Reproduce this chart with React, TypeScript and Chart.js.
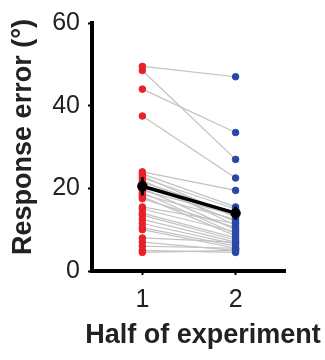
import React, { useEffect, useRef } from "react";
import { Chart, registerables } from "chart.js";

Chart.register(...registerables);

const categories = [1, 2];
const tickLabelsY = [0, 20, 40, 60];
const firstHalf = [49.5, 48.5, 44, 37.5, 24, 23.5, 23, 22.5, 22, 21.5, 21, 20, 19.5, 19, 18.5, 18, 17.5, 15.5, 15, 14, 13.5, 12.5, 11.5, 10.5, 10, 8, 7, 6, 5, 4.5];
const secondHalf = [47, 27, 33.5, 22.5, 19.5, 15.5, 13, 15, 11, 14, 12, 10, 13.5, 9, 12.5, 8.5, 10.5, 11.5, 9.5, 8, 7.5, 7, 6.5, 6, 5.5, 7, 5, 5.5, 4.5, 5];
const meanValues = [20.5, 14];
const semValues = [2.2, 1.6];
const xTitle = "Half of experiment";
const yTitle = "Response error (°)";

const FONT = "'Liberation Sans', Arial, sans-serif";

export default function App() {
  const ref = useRef<HTMLCanvasElement | null>(null);
  useEffect(() => {
    if (!ref.current) return;
    const lineSets = firstHalf.map((v, i) => ({
      type: "line" as const,
      data: [
        { x: categories[0], y: v },
        { x: categories[1], y: secondHalf[i] },
      ],
      borderColor: "#c2c2c2",
      borderWidth: 1.2,
      pointRadius: 0,
      order: 5,
    }));
    const errorBars = {
      id: "errorBars",
      afterDatasetsDraw(chart: any) {
        const { ctx, scales } = chart;
        ctx.save();
        ctx.strokeStyle = "#000";
        ctx.lineWidth = 3;
        meanValues.forEach((m, i) => {
          const x = scales.x.getPixelForValue(categories[i]);
          ctx.beginPath();
          ctx.moveTo(x, scales.y.getPixelForValue(m - semValues[i]));
          ctx.lineTo(x, scales.y.getPixelForValue(m + semValues[i]));
          ctx.stroke();
        });
        ctx.restore();
      },
    };
    const titles = {
      id: "axisTitles",
      afterDraw(chart: any) {
        const { ctx } = chart;
        ctx.save();
        ctx.fillStyle = "#222";
        ctx.font = `bold 27px ${FONT}`;
        ctx.textAlign = "center";
        ctx.textBaseline = "middle";
        ctx.fillText(xTitle, 203, 336);
        ctx.translate(24, 137);
        ctx.rotate(-Math.PI / 2);
        ctx.fillText(yTitle, 0, 0);
        ctx.restore();
      },
    };
    const chart = new Chart(ref.current, {
      type: "line",
      data: {
        datasets: [
          {
            type: "line",
            data: meanValues.map((m, i) => ({ x: categories[i], y: m })),
            borderColor: "#000",
            backgroundColor: "#000",
            borderWidth: 3.5,
            pointRadius: 3.5,
            order: 1,
          },
          {
            type: "scatter",
            data: firstHalf.map((v) => ({ x: categories[0], y: v })),
            backgroundColor: "#e8202a",
            borderColor: "#e8202a",
            pointRadius: 3.3,
            order: 2,
          },
          {
            type: "scatter",
            data: secondHalf.map((v) => ({ x: categories[1], y: v })),
            backgroundColor: "#2a48a8",
            borderColor: "#2a48a8",
            pointRadius: 3.3,
            order: 2,
          },
          ...lineSets,
        ] as any,
      },
      options: {
        animation: false,
        responsive: false,
        layout: { padding: { left: 0, top: 10, right: 40, bottom: 0 } },
        plugins: { legend: { display: false }, tooltip: { enabled: false } },
        scales: {
          x: {
            type: "linear",
            min: 0.46,
            max: 2.53,
            afterBuildTicks: (s: any) => {
              s.ticks = categories.map((c) => ({ value: c }));
            },
            afterFit: (s: any) => {
              s.height = 89;
            },
            border: { display: true, width: 4, color: "#000" },
            grid: { drawOnChartArea: false, drawTicks: true, tickLength: 4, tickWidth: 2, tickColor: "#000" },
            ticks: { color: "#222", font: { family: FONT, size: 25 }, padding: 10 },
            title: { display: false, text: xTitle },
          },
          y: {
            min: 0,
            max: 60,
            afterBuildTicks: (s: any) => {
              s.ticks = tickLabelsY.map((v) => ({ value: v }));
            },
            afterFit: (s: any) => {
              s.width = 92;
            },
            border: { display: true, width: 4, color: "#000" },
            grid: { drawOnChartArea: false, drawTicks: true, tickLength: 4, tickWidth: 2, tickColor: "#000" },
            ticks: { color: "#222", font: { family: FONT, size: 25 }, padding: 8 },
            title: { display: false, text: yTitle },
          },
        },
      },
      plugins: [errorBars, titles],
    });
    return () => chart.destroy();
  }, []);
  return (
    <div style={{ position: "fixed", left: 0, top: 0, width: 325, height: 360, background: "#fff" }}>
      <canvas ref={ref} width={325} height={360} style={{ width: 325, height: 360 }} />
    </div>
  );
}
